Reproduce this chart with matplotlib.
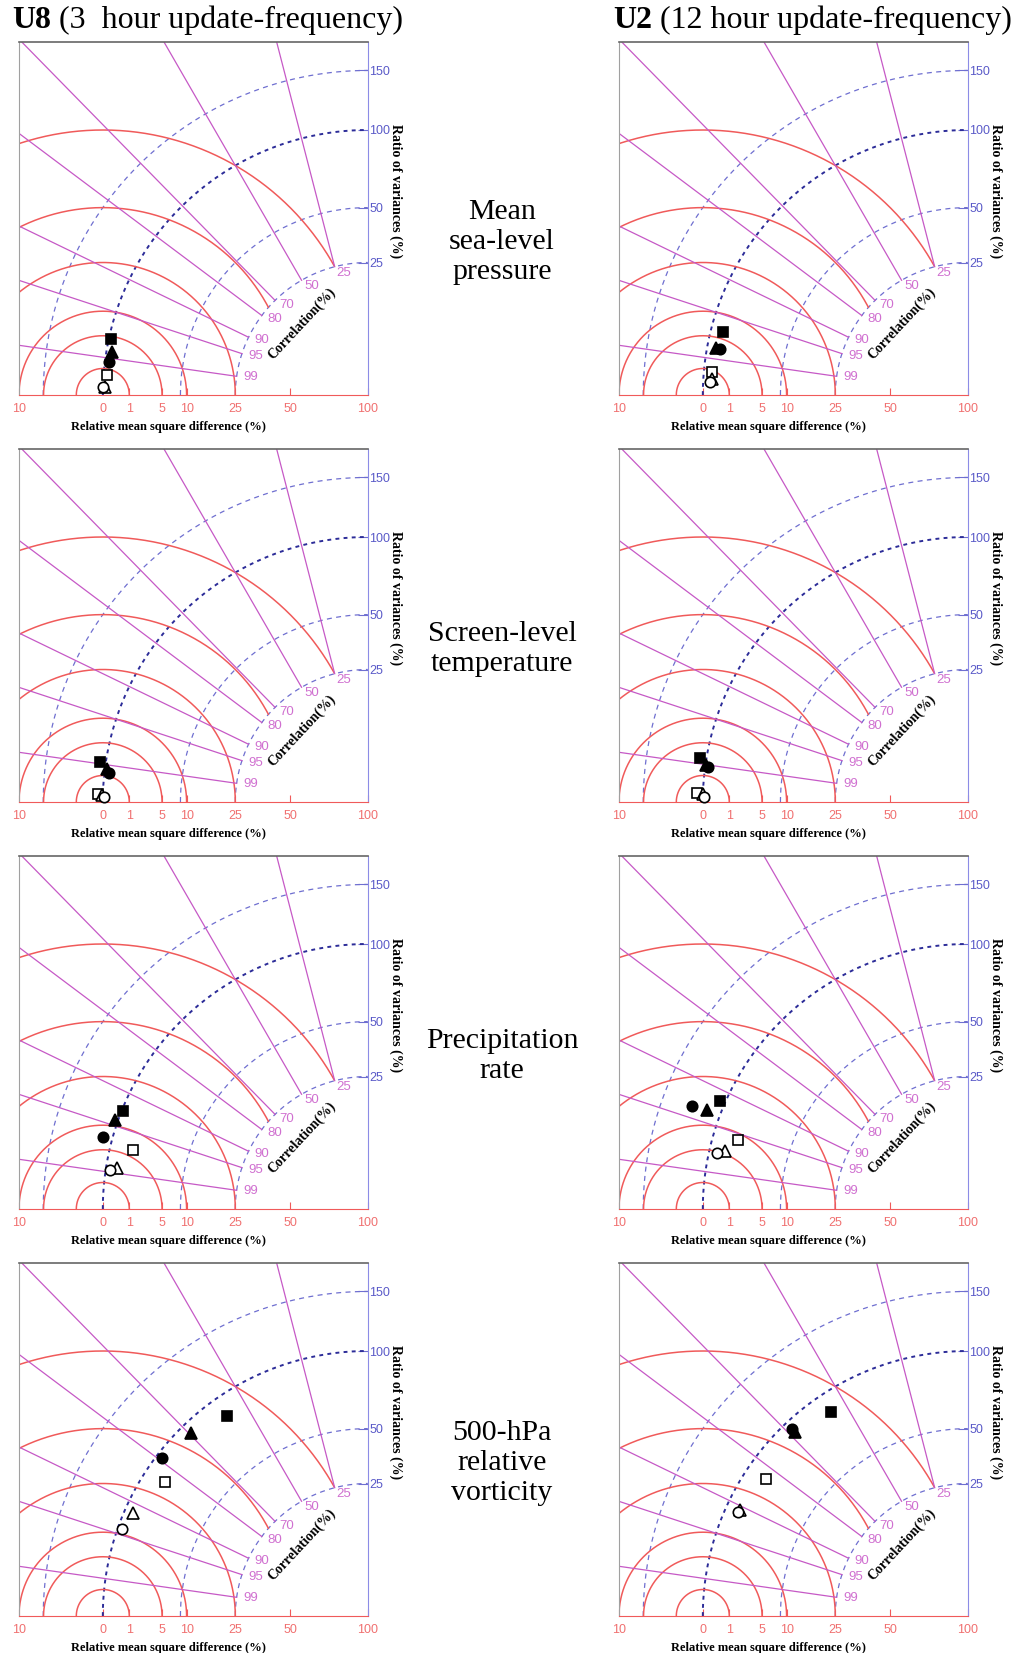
import numpy as np
import matplotlib
matplotlib.use("Agg")
import matplotlib.pyplot as plt

# Boer-Lambert style diagram: ratio of variances (%) and correlation (%) per run
# marker order: filled square, filled triangle, filled circle, open square, open triangle, open circle
marker_shapes = ["s", "^", "o", "s", "^", "o"]
marker_filled = [True, True, True, False, False, False]

u8_mslp_var = [98.6, 96.0, 96.9, 97.1, 98.4, 100.3]
u8_mslp_corr = [97.7, 98.6, 99.2, 99.7, 99.95, 99.95]
u2_mslp_var = [90.7, 93.5, 90.4, 94.1, 93.2, 95.0]
u2_mslp_corr = [96.8, 98.3, 98.3, 99.6, 99.8, 99.87]

u8_temp_var = [104.7, 98.5, 96.8, 104.1, 100.3, 99.5]
u8_temp_corr = [98.9, 99.2, 99.4, 99.96, 99.97, 99.98]
u2_temp_var = [105.1, 99.8, 97.9, 104.2, 99.9, 99.1]
u2_temp_corr = [98.7, 99.0, 99.1, 99.95, 99.95, 99.98]

u8_prec_var = [99.4, 102.2, 106.9, 83.4, 91.6, 96.6]
u8_prec_corr = [92.8, 94.3, 96.5, 97.0, 98.7, 98.9]
u2_prec_var = [104.0, 111.0, 123.1, 81.7, 88.5, 93.8]
u2_prec_corr = [91.7, 93.5, 93.7, 95.8, 97.3, 97.6]

u8_vort_var = [85.6, 92.1, 96.3, 84.4, 93.2, 96.9]
u8_vort_corr = [57.6, 69.6, 79.3, 83.4, 91.6, 94.3]
u2_vort_var = [86.2, 90.8, 93.4, 84.4, 90.0, 90.8]
u2_vort_corr = [55.7, 68.4, 68.5, 82.7, 90.7, 91.2]

row_titles = ["Mean\nsea-level\npressure", "Screen-level\ntemperature",
              "Precipitation\nrate", "500-hPa\nrelative\nvorticity"]

rmsd_levels = [1, 5, 10, 25, 50, 100]
var_levels = [25, 50, 100, 150]
corr_levels = [25, 50, 70, 80, 90, 95, 99]
bottom_labels = ["10", "0", "1", "5", "10", "25", "50", "100"]
bottom_values = [-10, 0, 1, 5, 10, 25, 50, 100]

RED = "#f05a5a"
MAG = "#c659c6"
MAGTXT = "#d070d0"
BLUE = "#6f6fd0"
DBLUE = "#2c2c98"
SERIF = "Liberation Serif"
SANS = "Liberation Sans"

W, H = 1016, 1653
PX = 265.0
XMAX = 1 + np.sqrt(0.1)
YMAX = 353 / PX


def draw_panel(ax, var, corr):
    ax.set_xlim(XMAX, 0)
    ax.set_ylim(0, YMAX)

    # ratio of variances arcs around the origin
    t = np.linspace(0, np.pi / 2, 300)
    for v in var_levels:
        r = np.sqrt(v / 100)
        if v == 100:
            ax.plot(r * np.cos(t), r * np.sin(t), color=DBLUE, lw=1.4, ls=(0, (2, 2.2)))
        else:
            ax.plot(r * np.cos(t), r * np.sin(t), color=BLUE, lw=0.9, ls=(0, (4, 3.5)))

    # relative mean square difference arcs around the reference point
    p = np.linspace(0, np.pi, 600)
    for v in rmsd_levels:
        r = np.sqrt(v / 100)
        x = 1 + r * np.cos(p)
        y = r * np.sin(p)
        x = np.where(np.hypot(x, y) >= 0.5, x, np.nan)
        ax.plot(x, y, color=RED, lw=1.1)

    # correlation lines
    for c in corr_levels:
        a = np.arccos(c / 100)
        ax.plot([0.5 * np.cos(a), 2.5 * np.cos(a)], [0.5 * np.sin(a), 2.5 * np.sin(a)],
                color=MAG, lw=0.9)
        ax.text(0.475 * np.cos(a), 0.475 * np.sin(a), str(c), ha="left", va="center",
                color=MAGTXT, fontsize=9.5, family=SANS)

    # the runs
    for k in range(len(var)):
        s = np.sqrt(var[k] / 100)
        c = corr[k] / 100
        px, py = s * c, s * np.sqrt(max(0, 1 - c * c))
        ms = 8 if marker_shapes[k] == "^" else 7.5
        ax.plot(px, py, marker=marker_shapes[k], ms=ms, mec="black", mew=1.2,
                mfc="black" if marker_filled[k] else "white", zorder=5, clip_on=False)

    ax.set_xticks([1 - np.sign(v) * np.sqrt(abs(v) / 100) for v in bottom_values])
    ax.set_xticklabels(bottom_labels, family=SANS, fontsize=9)
    ax.tick_params(axis="x", direction="in", length=5, color=RED, labelcolor="#f07070", pad=6)

    ax.yaxis.tick_right()
    ax.set_yticks([np.sqrt(v / 100) for v in var_levels])
    ax.set_yticklabels([str(v) for v in var_levels], family=SANS, fontsize=9)
    ax.tick_params(axis="y", direction="in", length=7, color=BLUE, labelcolor="#5a5ac8", pad=1)

    ax.spines["top"].set_color("#666666")
    ax.spines["top"].set_linewidth(1.2)
    ax.spines["left"].set_color("#a0a0a0")
    ax.spines["right"].set_color("#8c8ce6")
    ax.spines["bottom"].set_color(RED)

    ax.text(1.08, 0.578, "Ratio of variances (%)", transform=ax.transAxes, rotation=-90,
            ha="center", va="center", fontsize=10, fontweight="bold", family=SERIF)
    ax.text(0.427, -0.092, "Relative mean square difference (%)", transform=ax.transAxes,
            ha="center", va="center", fontsize=9, fontweight="bold", family=SERIF)
    ax.text(0.25, 0.27, "Correlation(%)", rotation=47, rotation_mode="anchor",
            ha="center", va="center", fontsize=10, fontweight="bold", family=SERIF)


fig = plt.figure(figsize=(W / 100, H / 100), dpi=100)

panels = [
    (u8_mslp_var, u8_mslp_corr, u2_mslp_var, u2_mslp_corr),
    (u8_temp_var, u8_temp_corr, u2_temp_var, u2_temp_corr),
    (u8_prec_var, u8_prec_corr, u2_prec_var, u2_prec_corr),
    (u8_vort_var, u8_vort_corr, u2_vort_var, u2_vort_corr),
]

for i, (v8, c8, v2, c2) in enumerate(panels):
    bottom_px = 395 + 407 * i
    for x0, var, corr in [(19, v8, c8), (619, v2, c2)]:
        ax = fig.add_axes([x0 / W, 1 - bottom_px / H, XMAX * PX / W, 353 / H])
        draw_panel(ax, var, corr)
    fig.text(502 / W, 1 - (242 + 407 * i) / H, row_titles[i], ha="center", va="center",
             fontsize=21.5, family=SERIF, linespacing=1.2)

# column headers: bold run name followed by regular text
renderer = fig.canvas.get_renderer()
for x0, name, rest in [(12, "U8", " (3  hour update-frequency)"),
                       (613, "U2", " (12 hour update-frequency)")]:
    t = fig.text(x0 / W, 1 - 28 / H, name, fontsize=23, fontweight="bold", family=SERIF,
                 va="baseline")
    bb = t.get_window_extent(renderer)
    fig.text(bb.x1 / W, 1 - 28 / H, rest, fontsize=23, family=SERIF, va="baseline")

fig.savefig("out.png", dpi=100)
